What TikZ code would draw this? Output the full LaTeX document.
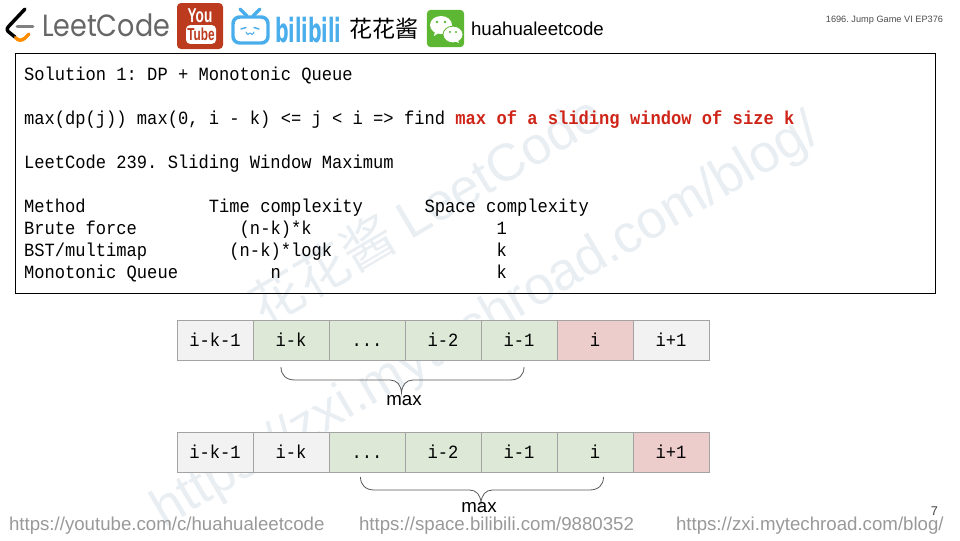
\documentclass[tikz,border=0pt]{standalone}
\usepackage{fontspec}
\usetikzlibrary{shapes.geometric}
\newfontfamily\cons[FakeStretch=0.917]{Liberation Mono}
\newfontfamily\arial{Liberation Sans}
\newfontfamily\arialnarrow[FakeStretch=0.68]{Liberation Sans}
\newfontfamily\popp[FakeStretch=0.88]{Poppins}
\newfontfamily\bilifont[FakeStretch=0.57]{DejaVu Sans}
\newfontfamily\cjk{Noto Sans CJK SC}
\frenchspacing
\definecolor{cellgrey}{HTML}{F2F2F2}
\definecolor{cellgreen}{HTML}{DDE9D6}
\definecolor{cellred}{HTML}{EDCDCC}
\definecolor{cellline}{HTML}{A3A3A3}
\definecolor{wm}{HTML}{E9EEF3}
\definecolor{urlgrey}{HTML}{999999}
\definecolor{hot}{HTML}{CF2418}
\definecolor{bili}{HTML}{4BAEEC}
\definecolor{ytred}{HTML}{BC3A1E}
\definecolor{wxgreen}{HTML}{5DB733}
\tikzset{
  every node/.style={inner sep=0pt,outer sep=0pt},
  codeline/.style={anchor=base west,font=\cons\fontsize{14}{16}\selectfont},
  cellbase/.style={draw=cellline,line width=0.6pt,minimum width=57pt,minimum height=30pt,
    text height=9.8pt,text depth=0pt,font=\cons\fontsize{14}{16}\selectfont},
  cg/.style={cellbase,fill=cellgrey},
  cv/.style={cellbase,fill=cellgreen},
  cr/.style={cellbase,fill=cellred},
  urltext/.style={anchor=base west,text=urlgrey,font=\arial\fontsize{14}{16}\selectfont},
  wmtext/.style={text=wm,rotate=30.5,anchor=base west},
  bracepath/.style={draw=black!65,line width=0.6pt},
  logostroke/.style={line cap=round,line join=round},
}
\begin{document}
\begin{tikzpicture}[x=0.75pt,y=-0.75pt]
\useasboundingbox (0,0) rectangle (960,540);
% watermark
\node[wmtext,font=\cjk\fontsize{39.5}{42}\selectfont] (wm1) at (264,327) {花花酱 \arial LeetCode};
\node[wmtext,font=\arial\fontsize{40}{42}\selectfont] (wm2) at (164,528) {https://zxi.mytechroad.com/blog/};
% LeetCode logo
\draw[logostroke,black,line width=2.6pt] (25,9) -- (9,26) .. controls (6,29) and (7,31) .. (10,33) -- (15,37);
\draw[logostroke,color=orange!90!yellow,line width=2.6pt] (15.5,37.5) .. controls (18,41) and (22,41) .. (25,38) -- (29,34);
\draw[logostroke,color=gray,line width=2pt] (17,26.5) -- (33,26.5);
\node[anchor=base west,text=black!60,font=\popp\fontsize{23}{26}\selectfont] (lc) at (42,36) {LeetCode};
% YouTube
\node[fill=ytred,rounded corners=3pt,minimum width=34.5pt,minimum height=34.5pt] (yt) at (200,26) {};
\node[text=white,font=\arialnarrow\bfseries\fontsize{15}{16}\selectfont] (ytyou) at (200,16) {You};
\node[fill=white,rounded corners=3pt,minimum width=22.5pt,minimum height=14pt,text=ytred,font=\arialnarrow\bfseries\fontsize{13}{14}\selectfont] (yttube) at (201,34.5) {Tube};
% bilibili TV
\draw[bili,line width=2.6pt,rounded corners=5pt] (233,17) rectangle (268,43);
\draw[bili,line width=2.4pt,logostroke] (240,9) -- (247,16) (260,9) -- (253,16);
\draw[bili,line width=1.1pt,logostroke] (241,29) -- (246,27.5) (254,27.5) -- (259,29);
\draw[bili,line width=0.8pt,logostroke] (246,32) .. controls (247,35) and (249,35) .. (250,33) .. controls (251,35) and (253,35) .. (254,32);
\node[anchor=base west,text=bili,font=\bilifont\bfseries\fontsize{25}{27}\selectfont] (bl) at (275,42) {bilibili};
\node[anchor=base west,font=\cjk\fontsize{17.3}{20}\selectfont] (hh) at (349.5,37) {花花酱};
% WeChat
\node[fill=wxgreen,rounded corners=3pt,minimum width=28pt,minimum height=28pt] (wx) at (445.5,28.5) {};
\node[fill=white,ellipse,minimum width=16.5pt,minimum height=13.5pt] at (441,25) (wxa) {};
\fill[white] (435,31) -- (434,36) -- (440,32) -- cycle;
\node[fill=white,draw=wxgreen,line width=0.6pt,ellipse,minimum width=15pt,minimum height=12.5pt] at (453,34.5) (wxb) {};
\fill[white] (457,39) -- (459,43) -- (453,40) -- cycle;
\fill[wxgreen] (437,22) circle (1.3) (445,22) circle (1.3) (450,32) circle (1.1) (456,32) circle (1.1);
\node[anchor=base west,font=\arial\fontsize{14}{16}\selectfont] (hh2) at (471,35) {huahualeetcode};
\node[anchor=base east,text=black!70,font=\arial\fontsize{6.9}{9}\selectfont] (title) at (943,22.7) {1696. Jump Game VI EP376};
% code box
\node[draw=black,line width=0.6pt,minimum width=690pt,minimum height=180pt] (box) at (475,173) {};
\node[codeline] (l1) at (24,80.5) {Solution 1: DP + Monotonic Queue};
\node[codeline] (l2) at (24,124.5) {max(dp(j)) max(0, i - k) <= j < i => find \textcolor{hot}{\bfseries max of a sliding window of size k}};
\node[codeline] (l3) at (24,168.5) {LeetCode 239. Sliding Window Maximum};
\node[codeline] (l4) at (24,212.5) {Method~~~~~~~~~~~~Time complexity~~~~~~Space complexity};
\node[codeline] (l5) at (24,234.5) {Brute force~~~~~~~~~~(n-k)*k~~~~~~~~~~~~~~~~~~1};
\node[codeline] (l6) at (24,256.5) {BST/multimap~~~~~~~~(n-k)*logk~~~~~~~~~~~~~~~~k};
\node[codeline] (l7) at (24,278.5) {Monotonic Queue~~~~~~~~~n~~~~~~~~~~~~~~~~~~~~~k};
% row 1
\node[cg] (a1) at (215,340) {i-k-1};
\node[cv] (a2) at (291,340) {i-k};
\node[cv] (a3) at (367,340) {...};
\node[cv] (a4) at (443,340) {i-2};
\node[cv] (a5) at (519,340) {i-1};
\node[cr] (a6) at (595,340) {i};
\node[cg] (a7) at (671,340) {i+1};
% row 2
\node[cg] (b1) at (215,452) {i-k-1};
\node[cg] (b2) at (291,452) {i-k};
\node[cv] (b3) at (367,452) {...};
\node[cv] (b4) at (443,452) {i-2};
\node[cv] (b5) at (519,452) {i-1};
\node[cv] (b6) at (595,452) {i};
\node[cr] (b7) at (671,452) {i+1};
% braces
\draw[bracepath] (281,367) .. controls (281,375) and (286,380) .. (295,380) -- (390,380)
  .. controls (397,380) and (401,385) .. (401.5,393) .. controls (402,385) and (406,380) .. (413,380)
  -- (510,380) .. controls (519,380) and (524,375) .. (524,367);
\node[anchor=base,font=\arial\fontsize{14}{16}\selectfont] (m1) at (404,405.5) {max};
\begin{scope}[shift={(79.5,110)}]
\draw[bracepath] (281,367) .. controls (281,375) and (286,380) .. (295,380) -- (390,380)
  .. controls (397,380) and (401,385) .. (401.5,393) .. controls (402,385) and (406,380) .. (413,380)
  -- (510,380) .. controls (519,380) and (524,375) .. (524,367);
\end{scope}
\node[anchor=base,font=\arial\fontsize{14}{16}\selectfont] (m2) at (479,512.5) {max};
% footer
\node[urltext] (u1) at (9,530) {https://youtube.com/c/huahualeetcode};
\node[urltext] (u2) at (359,530) {https://space.bilibili.com/9880352};
\node[urltext] (u3) at (676,530) {https://zxi.mytechroad.com/blog/};
\node[anchor=base,text=black!75,font=\arial\fontsize{9.5}{10}\selectfont] (pg) at (934.5,515) {7};
\end{tikzpicture}
\end{document}
